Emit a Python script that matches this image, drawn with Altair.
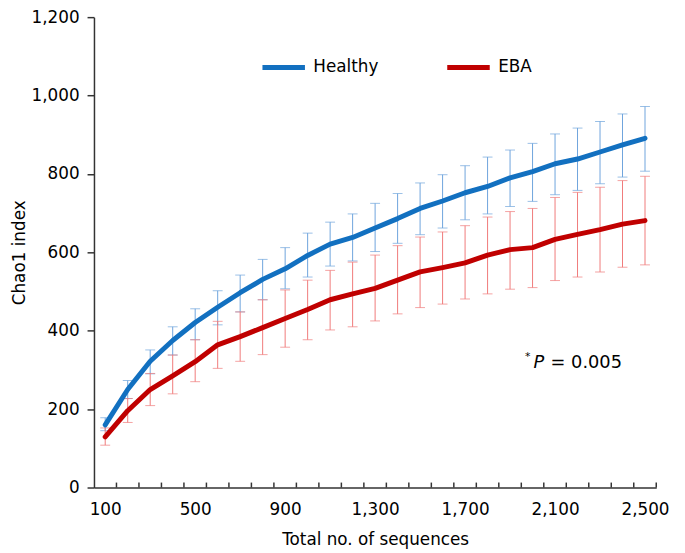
import altair as alt
import pandas as pd

# ---------------- data ----------------
sequences = list(range(100, 2600, 100))
groups = ["Healthy", "EBA"]

healthy_mean = [160, 250, 322, 375, 421, 460, 497, 531, 558, 592, 621, 638, 662,
                686, 712, 731, 752, 768, 790, 806, 826, 838, 856, 874, 891]
healthy_upper = [178, 273, 351, 410, 456, 502, 542, 582, 612, 649, 677, 698, 725,
                 750, 777, 798, 821, 843, 861, 878, 902, 917, 934, 953, 972]
healthy_lower = [145, 227, 290, 338, 377, 415, 448, 479, 507, 537, 565, 578, 602,
                 623, 645, 662, 683, 698, 717, 730, 747, 758, 775, 792, 807]

eba_mean = [129, 196, 250, 285, 321, 364, 385, 408, 431, 454, 479, 494, 508,
            529, 550, 561, 573, 593, 607, 612, 633, 646, 658, 672, 681]
eba_upper = [152, 227, 291, 338, 377, 424, 448, 479, 504, 529, 554, 575, 593,
             617, 639, 652, 668, 690, 704, 712, 740, 753, 766, 783, 794]
eba_lower = [108, 166, 209, 239, 270, 304, 322, 339, 358, 377, 402, 410, 425,
             443, 459, 468, 481, 494, 506, 510, 528, 537, 550, 562, 568]

x_label_values = [100, 500, 900, 1300, 1700, 2100, 2500]
x_tick_marks = list(range(150, 2600, 100))
y_tick_values = [0, 200, 400, 600, 800, 1000, 1200]

annot_star = {"x": 1966, "y": 332, "text": "*"}
annot_p = {"x": 2004, "y": 318, "text": "P"}
annot_val = {"x": 2080, "y": 318, "text": "= 0.005"}

# ---------------- table ----------------
rows = []
for g, m, lo, hi in [("Healthy", healthy_mean, healthy_lower, healthy_upper),
                     ("EBA", eba_mean, eba_lower, eba_upper)]:
    for s, a, b, c in zip(sequences, m, lo, hi):
        rows.append({"seq": s, "group": g, "mean": a, "lower": b, "upper": c})
df = pd.DataFrame(rows)

# ---------------- style ----------------
W, H = 569, 476
FONT = "DejaVu Sans"
FS = 17
AXC = "#333333"
line_colors = ["#1270c0", "#c00000"]
err_colors = ["#6ea4dc", "#f07a7a"]

x_scale = alt.Scale(domain=[50, 2550], nice=False, zero=False)
y_scale = alt.Scale(domain=[0, 1200], nice=False, zero=True)

x_axis = alt.Axis(values=x_label_values, format=",d", ticks=False, tickSize=0,
                  labelPadding=14, title="Total no. of sequences", titlePadding=15,
                  grid=False, domainColor=AXC, domainWidth=1.5,
                  labelFont=FONT, labelFontSize=FS, labelColor="black",
                  titleFont=FONT, titleFontSize=FS, titleFontWeight="normal",
                  titleColor="black")
y_axis = alt.Axis(values=y_tick_values, format=",d", tickSize=7, tickColor=AXC,
                  tickWidth=1.5, labelPadding=8, title="Chao1 index",
                  titlePadding=3, grid=False, domainColor=AXC, domainWidth=1.5,
                  labelFont=FONT, labelFontSize=FS, labelColor="black",
                  titleFont=FONT, titleFontSize=FS, titleFontWeight="normal",
                  titleColor="black")

X = alt.X("seq:Q", scale=x_scale, axis=x_axis)

layers = []
# error bars
for g, col in zip(groups, err_colors):
    sub = alt.Chart(df).transform_filter(alt.datum.group == g)
    layers.append(sub.mark_rule(color=col, strokeWidth=1).encode(
        x=X, y=alt.Y("lower:Q", scale=y_scale, axis=y_axis), y2="upper:Q"))
    for f in ["lower", "upper"]:
        layers.append(sub.mark_tick(color=col, orient="horizontal", size=10,
                                    thickness=1).encode(
            x=X, y=alt.Y(f + ":Q", scale=y_scale, axis=y_axis)))

# lines
lines = alt.Chart(df).mark_line(strokeWidth=5, strokeCap="round",
                                strokeJoin="round").encode(
    x=X,
    y=alt.Y("mean:Q", scale=y_scale, axis=y_axis),
    color=alt.Color("group:N",
                    scale=alt.Scale(domain=groups, range=line_colors),
                    legend=alt.Legend(orient="none", legendX=168, legendY=27,
                                      direction="horizontal", title=None,
                                      symbolType="stroke", symbolSize=1849,
                                      symbolStrokeWidth=5, labelFont=FONT,
                                      labelFontSize=FS, labelColor="black",
                                      labelOffset=6, columnPadding=59,
                                      padding=0)),
    order=alt.Order("seq:Q"),
)
layers.append(lines)

# inward x-axis tick marks between categories
ticks = alt.Chart(pd.DataFrame({"t": x_tick_marks})).mark_rule(
    color=AXC, strokeWidth=1.5).encode(
    x=alt.X("t:Q", scale=x_scale, axis=x_axis),
    y=alt.value(H - 5), y2=alt.value(H))
layers.append(ticks)

# annotation
def text_layer(d, size, style):
    return alt.Chart(pd.DataFrame([d])).mark_text(
        align="left", baseline="middle", font=FONT, fontSize=size,
        fontStyle=style, color="black").encode(
        x=alt.X("x:Q", scale=x_scale, axis=x_axis),
        y=alt.Y("y:Q", scale=y_scale, axis=y_axis),
        text="text:N")

layers.append(text_layer(annot_star, 11, "normal"))
layers.append(text_layer(annot_p, 18, "italic"))
layers.append(text_layer(annot_val, 18, "normal"))

chart = alt.layer(*layers).properties(
    width=W, height=H,
    padding={"left": 87, "top": 6, "right": 21, "bottom": 62},
    autosize=alt.AutoSizeParams(type="none"),
    background="white",
).configure_view(stroke=None)

chart.save("out.html", embed_options={"renderer": "svg", "actions": False})
